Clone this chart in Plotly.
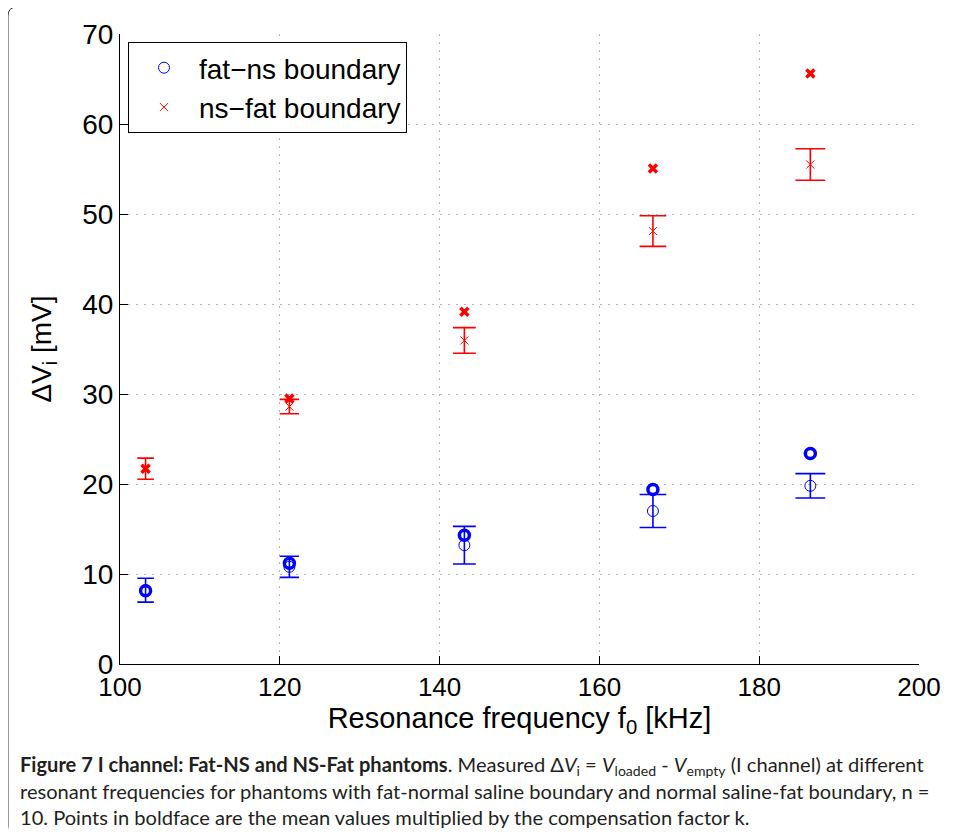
import plotly.graph_objects as go

# ---- data ----
freq_khz = [103.2, 121.2, 143.1, 166.7, 186.4]
fatns_mean = [8.2, 10.8, 13.2, 17.0, 19.8]
fatns_err = [1.33, 1.17, 2.09, 1.83, 1.35]
fatns_comp = [8.15, 11.2, 14.3, 19.4, 23.4]
nsfat_mean = [21.7, 28.6, 35.95, 48.1, 55.5]
nsfat_err = [1.17, 0.8, 1.43, 1.7, 1.75]
nsfat_comp = [21.7, 29.5, 39.15, 55.05, 65.6]
x_ticks = [100, 120, 140, 160, 180, 200]
y_ticks = [0, 10, 20, 30, 40, 50, 60, 70]

BLUE = "#0000ff"
RED = "#ff0000"

# page body has an 8px margin, so the figure is 8px smaller and everything is in page coordinates - 8
OFF = 8
W, H = 956 - OFF, 839 - OFF
PL, PR, PT, PB = 120, 919, 34, 664          # plot area in page pixels
L, T = PL - OFF, PT - OFF
R, B = W - (PR - OFF), H - (PB - OFF)
pw, ph = PR - PL, PB - PT


def px_x(p):  # page pixel -> paper x
    return (p - PL) / pw


def px_y(p):  # page pixel -> paper y
    return (PB - p) / ph


fig = go.Figure()

# error bars + thin mean markers (one trace per point so the cap width can follow the reference)
for series, mean, err, color, sym, name in [
    ("fatns", fatns_mean, fatns_err, BLUE, "circle-open", "fat\u2212ns boundary"),
    ("nsfat", nsfat_mean, nsfat_err, RED, "x-thin-open", "ns\u2212fat boundary"),
]:
    for i, (fx, m, e) in enumerate(zip(freq_khz, mean, err)):
        fig.add_trace(go.Scatter(
            x=[fx], y=[m], mode="markers",
            name=name, legendgroup=series, showlegend=(i == 0),
            marker=dict(symbol=sym, size=11 if sym == "circle-open" else 8,
                        color=color, line=dict(color=color, width=1)),
            error_y=dict(type="data", array=[e], visible=True, color=color,
                         thickness=1.6, width=0.08 * fx),
        ))

# compensated (boldface) points
fig.add_trace(go.Scatter(
    x=freq_khz, y=fatns_comp, mode="markers", showlegend=False,
    marker=dict(symbol="circle-open", size=10, color=BLUE, line=dict(color=BLUE, width=3.5)),
))
fig.add_trace(go.Scatter(
    x=freq_khz, y=nsfat_comp, mode="markers", showlegend=False,
    marker=dict(symbol="x-thin-open", size=8, color=RED, line=dict(color=RED, width=3.5)),
))

axis_common = dict(
    showline=True, linecolor="black", linewidth=1,
    ticks="inside", ticklen=8, tickcolor="black", tickwidth=1,
    showgrid=True, gridcolor="#b4b4b4", gridwidth=1, griddash="2px,6px",
    zeroline=False, mirror=False,
)

fig.update_xaxes(
    range=[100, 200], tickvals=x_ticks, ticktext=[str(v) for v in x_ticks],
    tickfont=dict(family="Liberation Sans, Arial", size=26, color="black"),
    title=dict(text="Resonance frequency f<sub>0</sub> [kHz]",
               font=dict(family="Liberation Sans, Arial", size=29, color="black"),
               standoff=1),
    **axis_common,
)
fig.update_yaxes(
    range=[0, 70], tickvals=y_ticks, ticktext=[str(v) for v in y_ticks],
    tickfont=dict(family="Liberation Sans, Arial", size=28, color="black"),
    title=dict(text="\u0394V<sub>i</sub> [mV]",
               font=dict(family="Liberation Sans, Arial", size=28, color="black"),
               standoff=22),
    **axis_common,
)

fig.update_layout(
    width=W, height=H,
    margin=dict(l=L, r=R, t=T, b=B),
    paper_bgcolor="white", plot_bgcolor="white",
    legend=dict(
        x=px_x(128), y=px_y(42), xanchor="left", yanchor="top",
        bgcolor="white", bordercolor="black", borderwidth=1,
        font=dict(family="Liberation Sans, Arial", size=28, color="black"),
        itemwidth=60, tracegroupgap=0,
    ),
    showlegend=True,
)

# outer rounded frame
fx0, fy0 = px_x(8), px_y(7)
fig.add_shape(
    type="path", xref="paper", yref="paper",
    path=(f"M {px_x(960)} {fy0} L {px_x(17)} {fy0} Q {fx0} {fy0} {fx0} {px_y(16)} "
          f"L {fx0} {px_y(826)} Q {fx0} {px_y(834)} {px_x(4)} {px_y(842)}"),
    line=dict(color="#333333", width=1),
)

cap_font = dict(family="Lato, Open Sans, sans-serif", size=20.1, color="#231f20")
lines = [
    "<b>Figure 7 I channel: Fat-NS and NS-Fat phantoms</b>. Measured \u0394<i>V</i><sub>i</sub> = "
    "<i>V</i><sub>loaded</sub> - <i>V</i><sub>empty</sub> (I channel) at different",
    "resonant frequencies for phantoms with fat-normal saline boundary and normal saline-fat boundary, n =",
    "10. Points in boldface are the mean values multiplied by the compensation factor k.",
]
for ln, yc in zip(lines, [765, 791, 817]):
    fig.add_annotation(
        text=ln, xref="paper", yref="paper", x=px_x(18), y=px_y(yc),
        xanchor="left", yanchor="middle", showarrow=False, align="left", font=cap_font,
    )

fig.write_html("out.html")
